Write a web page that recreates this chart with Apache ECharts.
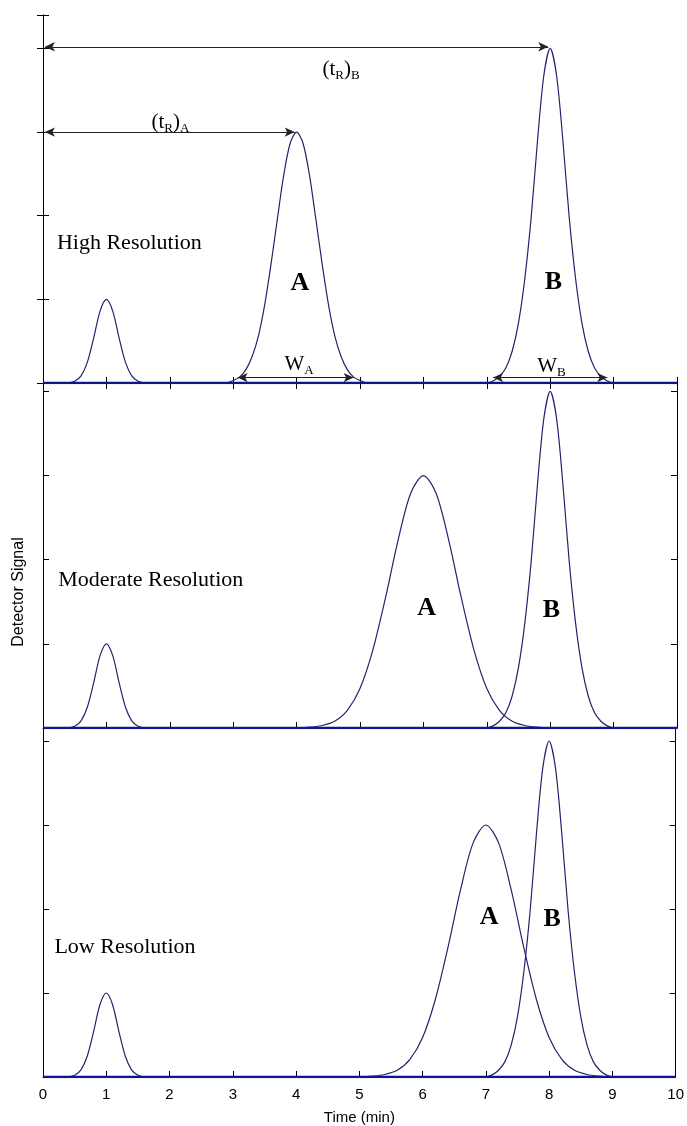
<!DOCTYPE html>
<html>
<head>
<meta charset="utf-8">
<script src="https://cdn.jsdelivr.net/npm/echarts@6/dist/echarts.min.js"></script>
<style>
  html, body { margin: 0; padding: 0; background: #fff; }
  #chart { width: 687px; height: 1126px; }
</style>
</head>
<body>
<div id="chart"></div>
<script>
// x tick labels (time, min)
const xTickLabels = ['0', '1', '2', '3', '4', '5', '6', '7', '8', '9', '10'];
const panelNames = ['High Resolution', 'Moderate Resolution', 'Low Resolution'];

// peaks, [time, signal]
const smallPeak = [[0.4, 0], [0.5, 0.02], [0.6, 0.085], [0.7, 0.25], [0.8, 0.54], [0.9, 0.86], [1.0, 1.0],
  [1.1, 0.86], [1.2, 0.54], [1.3, 0.25], [1.4, 0.085], [1.5, 0.02], [1.6, 0]];

const highA = [[2.9, 0], [3.0, 0.03], [3.1, 0.07], [3.2, 0.16], [3.3, 0.32], [3.4, 0.57], [3.5, 0.95],
  [3.6, 1.44], [3.7, 1.98], [3.8, 2.5], [3.9, 2.87], [4.0, 3.0], [4.1, 2.87], [4.2, 2.5], [4.3, 1.98],
  [4.4, 1.44], [4.5, 0.95], [4.6, 0.57], [4.7, 0.32], [4.8, 0.16], [4.9, 0.07], [5.0, 0.03], [5.1, 0]];

const highB = [[7.0, 0], [7.1, 0.025], [7.2, 0.08], [7.3, 0.18], [7.4, 0.38], [7.5, 0.72], [7.6, 1.25],
  [7.7, 1.98], [7.8, 2.9], [7.9, 3.68], [8.0, 4.0], [8.1, 3.68], [8.2, 2.9], [8.3, 1.98], [8.4, 1.25],
  [8.5, 0.72], [8.6, 0.38], [8.7, 0.18], [8.8, 0.08], [8.9, 0.025], [9.0, 0]];

const modA = [[4.0, 0], [4.2, 0.01], [4.4, 0.03], [4.6, 0.08], [4.8, 0.21], [5.0, 0.47], [5.2, 0.92],
  [5.4, 1.54], [5.6, 2.23], [5.8, 2.79], [6.0, 3.0], [6.2, 2.79], [6.4, 2.23], [6.6, 1.54], [6.8, 0.92],
  [7.0, 0.47], [7.2, 0.21], [7.4, 0.08], [7.6, 0.03], [7.8, 0.01], [8.0, 0]];

const modB = [[7.0, 0], [7.1, 0.025], [7.2, 0.08], [7.3, 0.18], [7.4, 0.38], [7.5, 0.72], [7.6, 1.25],
  [7.7, 1.98], [7.8, 2.9], [7.9, 3.68], [8.0, 4.0], [8.1, 3.68], [8.2, 2.9], [8.3, 1.98], [8.4, 1.25],
  [8.5, 0.72], [8.6, 0.38], [8.7, 0.18], [8.8, 0.08], [8.9, 0.025], [9.0, 0]];

const lowA = [[5.0, 0], [5.2, 0.01], [5.4, 0.03], [5.6, 0.08], [5.8, 0.21], [6.0, 0.47], [6.2, 0.92],
  [6.4, 1.54], [6.6, 2.23], [6.8, 2.79], [7.0, 3.0], [7.2, 2.79], [7.4, 2.23], [7.6, 1.54], [7.8, 0.92],
  [8.0, 0.47], [8.2, 0.21], [8.4, 0.08], [8.6, 0.03], [8.8, 0.01], [9.0, 0]];

const lowB = [[7.0, 0], [7.1, 0.025], [7.2, 0.08], [7.3, 0.18], [7.4, 0.38], [7.5, 0.72], [7.6, 1.25],
  [7.7, 1.98], [7.8, 2.9], [7.9, 3.68], [8.0, 4.0], [8.1, 3.68], [8.2, 2.9], [8.3, 1.98], [8.4, 1.25],
  [8.5, 0.72], [8.6, 0.38], [8.7, 0.18], [8.8, 0.08], [8.9, 0.025], [9.0, 0]];

const panelCurves = [[smallPeak, highA, highB], [smallPeak, modA, modB], [smallPeak, lowA, lowB]];

// annotation arrows in the top panel: [from, to, level]
const arrows = [[0.03, 7.97, 4.02], [0.03, 3.97, 3.0], [3.07, 4.9, 0.065], [7.1, 8.9, 0.065]];

const serif = '"Liberation Serif", "Times New Roman", serif';
const sans = '"Liberation Sans", Arial, sans-serif';
const ink = '#000';
const curveColor = '#23236e';

// layout of the three stacked panels
const grids = [
    { left: 43, right: 10, top: 15, height: 368 },
    { left: 43, right: 10, top: 383, height: 345 },
    { left: 43, right: 10, top: 728, height: 349 }
];
const yMax = [4.4, 4.1, 4.155];

// annotation text: [panel, x, y, text, kind]
const notes = [
    [0, 0.22, 1.67, panelNames[0], 'title'],
    [1, 0.24, 1.76, panelNames[1], 'title'],
    [2, 0.18, 1.55, panelNames[2], 'title'],
    [0, 4.05, 1.19, 'A', 'peak'], [0, 8.05, 1.21, 'B', 'peak'],
    [1, 6.05, 1.42, 'A', 'peak'], [1, 8.02, 1.4, 'B', 'peak'],
    [2, 7.05, 1.9, 'A', 'peak'], [2, 8.05, 1.88, 'B', 'peak'],
    [0, 4.7, 3.75, '{n|(t}{s|R}{n|)}{s|B}', 'sub'],
    [0, 2.01, 3.11, '{n|(t}{s|R}{n|)}{s|A}', 'sub'],
    [0, 4.04, 0.22, '{n|W}{s|A}', 'sub'],
    [0, 8.02, 0.2, '{n|W}{s|B}', 'sub']
];

const rich = {
    n: { fontFamily: serif, fontSize: 21, lineHeight: 21, verticalAlign: 'top', color: ink },
    s: { fontFamily: serif, fontSize: 13, lineHeight: 13, padding: [10, 0, 0, 0], verticalAlign: 'top', color: ink }
};

const chart = echarts.init(document.getElementById('chart'), null, { renderer: 'canvas' });

const xAxis = [];
const yAxis = [];
grids.forEach((g, i) => {
    xAxis.push({
        type: 'value', gridIndex: i, min: 0, max: 10, interval: 1,
        axisLine: { show: true, lineStyle: { color: ink, width: 1 } },
        axisTick: { show: true, inside: true, length: 6, lineStyle: { color: ink } },
        axisLabel: {
            show: i === 2, color: ink, fontFamily: sans, fontSize: 15, margin: 10,
            formatter: v => xTickLabels[Math.round(v)] || ''
        },
        splitLine: { show: false },
        name: i === 2 ? 'Time (min)' : '',
        nameLocation: 'middle', nameGap: 33,
        nameTextStyle: { color: ink, fontFamily: sans, fontSize: 15 }
    });
});
// top frame of the first panel
xAxis.push({
    type: 'value', gridIndex: 0, position: 'top', min: 0, max: 10, interval: 1,
    axisLine: { show: true, lineStyle: { color: ink, width: 1 } },
    axisTick: { show: true, inside: true, length: 6, lineStyle: { color: ink } },
    axisLabel: { show: false },
    splitLine: { show: false }
});
['left', 'right'].forEach(pos => {
    grids.forEach((g, i) => {
        yAxis.push({
            type: 'value', gridIndex: i, position: pos, min: 0, max: yMax[i], interval: 1,
            axisLine: { show: true, lineStyle: { color: ink, width: 1 } },
            axisTick: { show: true, inside: true, length: 6, lineStyle: { color: ink } },
            axisLabel: { show: false },
            splitLine: { show: false }
        });
    });
});

const series = [];
panelCurves.forEach((curves, i) => {
    curves.forEach(data => {
        series.push({
            type: 'line', xAxisIndex: i, yAxisIndex: i, data: data,
            smooth: 0.3, symbol: 'none', silent: true, z: 3,
            lineStyle: { color: curveColor, width: 1.2 }
        });
    });
    // thick baseline at zero signal
    const base = {
        type: 'line', xAxisIndex: i, yAxisIndex: i, data: [[0, 0], [10, 0]],
        symbol: 'none', silent: true, z: 4,
        lineStyle: { color: '#14148a', width: 2.6 }
    };
    if (i === 0) {
        base.markLine = {
            silent: true, symbol: ['arrow', 'arrow'], symbolSize: [7, 10],
            label: { show: false },
            lineStyle: { color: '#222', width: 1.2, type: 'solid' },
            emphasis: { disabled: true },
            data: arrows.map(a => [{ coord: [a[0], a[2]] }, { coord: [a[1], a[2]] }])
        };
    }
    series.push(base);
});

grids.forEach((g, i) => {
    const items = notes.filter(n => n[0] === i).map(n => {
        const kind = n[4];
        const label = {
            show: true, position: 'inside', formatter: n[3], color: ink,
            textBorderWidth: 0, opacity: 1,
            fontFamily: serif, verticalAlign: 'middle',
            align: kind === 'title' ? 'left' : 'center',
            fontSize: kind === 'peak' ? 26 : 22,
            fontWeight: kind === 'peak' ? 'bold' : 'normal'
        };
        if (kind === 'sub') label.rich = rich;
        return { value: [n[1], n[2]], label: label };
    });
    series.push({
        type: 'scatter', xAxisIndex: i, yAxisIndex: i, symbolSize: 0, silent: true, z: 6,
        itemStyle: { opacity: 1 },
        data: items
    });
});

const option = {
    animation: false,
    backgroundColor: '#fff',
    grid: grids,
    xAxis: xAxis,
    yAxis: yAxis,
    series: series,
    graphic: [{
        type: 'text', x: 19, y: 592, rotation: Math.PI / 2,
        style: { text: 'Detector Signal', fill: ink, font: '16px ' + sans, align: 'center', verticalAlign: 'middle' }
    }]
};

chart.setOption(option, true);
</script>
</body>
</html>
